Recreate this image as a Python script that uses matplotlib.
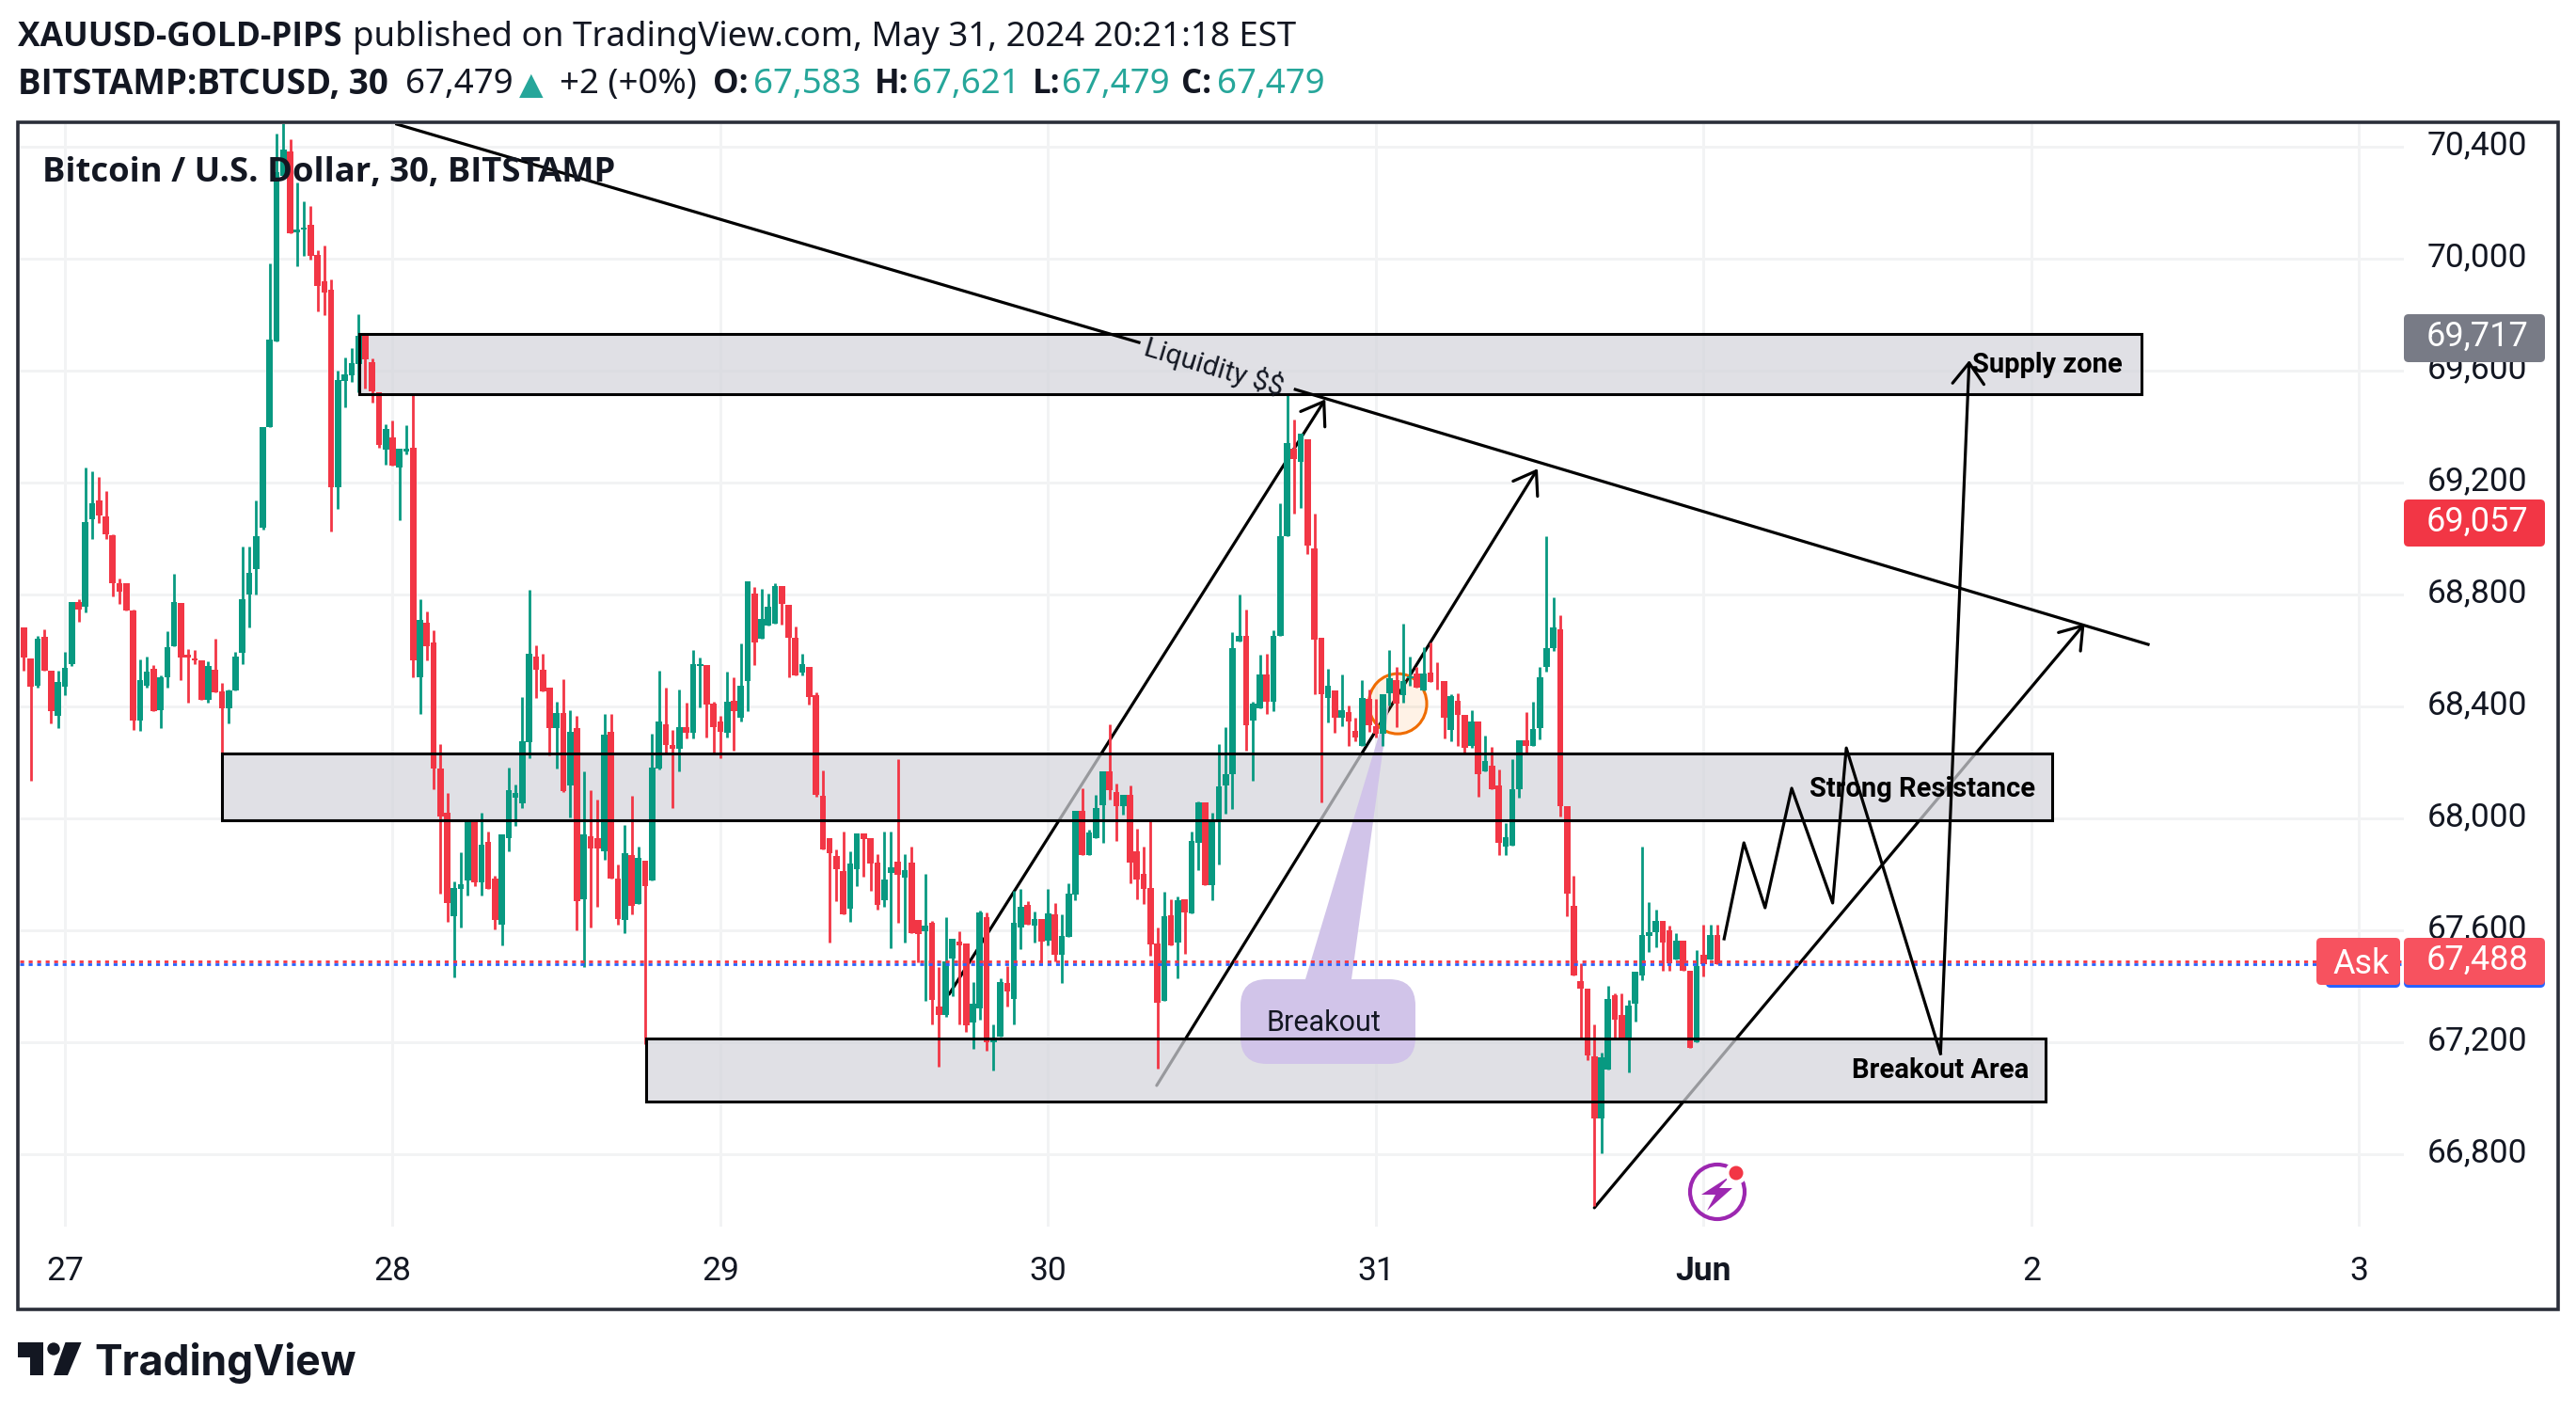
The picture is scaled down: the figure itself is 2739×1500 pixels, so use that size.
import numpy as np
import matplotlib
matplotlib.use("Agg")
import matplotlib.pyplot as plt
from matplotlib.patches import Rectangle, Ellipse, FancyBboxPatch, Polygon, Circle
from matplotlib.transforms import Affine2D, ScaledTranslation

# ===== data =====
opens = [68683,68572,68475,68649,68528,68368,68470,68553,68774,68755,
         69070,69135,69078,69011,68841,68841,68743,68351,68473,68535,
         68388,68503,68617,68770,68585,68572,68565,68425,68532,68454,
         68392,68458,68593,68800,68892,69039,69397,69703,70297,70382,
         70095,70103,70120,70013,69918,69891,69185,69564,69584,69625,
         69730,69630,69522,69319,69362,69255,69311,69325,68503,68700,
         68629,68179,68021,67652,67747,67780,67995,67773,67917,67786,
         67622,67931,68074,68055,68274,68579,68532,68468,68324,68377,
         68118,68323,67710,67937,67930,67882,68310,67785,67639,67870,
         67696,67850,67780,68178,68338,68262,68248,68325,68305,68546,
         68548,68410,68345,68307,68420,68360,68492,68803,68643,68690,
         68697,68832,68763,68646,68521,68540,68440,68080,67929,67866,
         67812,67679,67820,67946,67929,67841,67707,67806,67846,67787,
         67841,67636,67597,67627,67328,67298,67498,67561,67554,67272,
         67322,67647,67199,67219,67411,67355,67610,67690,67618,67640,
         67563,67658,67514,67578,67729,68026,67870,67929,68046,68168,
         68096,68043,68083,67882,67803,67751,67554,67347,67654,67558,
         67711,67660,67913,68056,67763,67992,68119,68159,68633,68651,
         68351,68395,68513,68418,68654,69009,69323,69275,69354,68966,
         68647,68431,68457,68359,68380,68314,68259,68426,68331,68302,
         68448,68496,68440,68500,68517,68458,68520,68506,68491,68316,
         68422,68371,68259,68345,68170,68187,68119,67899,67903,68105,
         68280,68259,68323,68542,68608,68676,68045,67688,67419,67393,
         67150,66928,67102,67368,67299,67217,67337,67440,67580,67594,
         67634,67599,67496,67565,67457,67200,67513,67496,67583]
closes = [68576,68472,68643,68529,68385,68488,68538,68774,68748,69059,
          69126,69084,69017,68841,68811,68743,68351,68494,68525,68385,
          68505,68612,68774,68576,68576,68564,68425,68545,68452,68392,
          68458,68579,68784,68878,69008,69397,69712,70308,70389,70092,
          70103,70112,70011,69904,69880,69185,69567,69586,69627,69724,
          69640,69526,69336,69392,69261,69320,69320,68566,68709,68616,
          68180,68007,67698,67752,67766,67987,67773,67907,67747,67636,
          67944,68102,68090,68275,68589,68533,68455,68324,68377,68099,
          68310,67706,67944,67892,67892,68300,67785,67642,67876,67689,
          67860,67760,68182,68346,68262,68248,68325,68307,68550,68553,
          68408,68325,68311,68418,68383,68473,68849,68630,68713,68756,
          68832,68766,68647,68512,68550,68435,68083,67889,67876,67820,
          67656,67840,67945,67926,67840,67691,67783,67827,67798,67817,
          67591,67587,67617,67352,67299,67490,67570,67547,67262,67337,
          67664,67202,67218,67416,67381,67627,67684,67620,67640,67561,
          67660,67514,67581,67731,68026,67870,67950,68036,68168,68101,
          68043,68083,67841,67783,67747,67551,67341,67650,67547,67707,
          67663,67919,68059,67763,67988,68115,68159,68609,68651,68334,
          68411,68513,68418,68654,69009,69342,69285,69374,68976,68640,
          68443,68474,68359,68388,68345,68289,68431,68333,68302,68445,
          68500,68410,68491,68508,68469,68517,68488,68503,68359,68436,
          68371,68251,68345,68157,68205,68105,67913,67934,68105,68280,
          68259,68320,68503,68608,68683,68045,67731,67440,67393,67153,
          66928,67145,67354,67282,67213,67333,67453,67582,67594,67634,
          67556,67484,67565,67457,67179,67474,67479,67582,67479]
highs = [68683,68572,68653,68676,68528,68528,68595,68774,68784,69253,
         69240,69219,69169,69015,68858,68841,68747,68569,68579,68548,
         68511,68669,68874,68770,68606,68602,68565,68562,68643,68485,
         68460,68595,68971,68971,69135,69397,69982,70446,70490,70426,
         70274,70204,70187,70030,70049,69925,69599,69647,69681,69802,
         69730,69644,69522,69409,69422,69320,69405,69513,68784,68740,
         68673,68266,68091,67776,67880,67987,67995,68021,67954,67796,
         67944,68182,68122,68434,68817,68619,68589,68468,68417,68498,
         68387,68367,68169,68102,68068,68374,68374,67836,67977,68081,
         67900,67850,68303,68527,68469,68315,68460,68414,68601,68574,
         68548,68418,68368,68525,68504,68624,68849,68827,68819,68803,
         68840,68832,68763,68687,68590,68540,68450,68172,67929,67890,
         67953,67882,67945,67946,67929,67872,67953,67953,68212,67872,
         67900,67636,67801,67635,67468,67647,67570,67598,67554,67415,
         67671,67664,67264,67428,67474,67740,67747,67703,67667,67640,
         67747,67698,67658,67767,68026,68109,67959,68083,68168,68335,
         68125,68083,68119,67963,67900,67995,67610,67737,67713,67720,
         67711,67953,68062,68056,68022,68265,68325,68667,68800,68746,
         68418,68584,68590,68674,69126,69520,69426,69374,69354,69088,
         68647,68534,68457,68513,68405,68359,68493,68462,68428,68445,
         68602,68542,68697,68577,68542,68611,68628,68560,68491,68443,
         68448,68371,68388,68345,68297,68256,68174,67982,68213,68280,
         68380,68417,68542,69009,68791,68728,68045,67796,67484,67393,
         67265,67165,67402,67376,67376,67350,67453,67899,67702,67676,
         67634,67616,67591,67565,67457,67530,67620,67620,67621]
lows = [68529,68135,68469,68529,68340,68324,68442,68546,68704,68738,
        68999,69057,68999,68795,68767,68743,68318,68314,68469,68385,
        68324,68469,68617,68495,68414,68550,68425,68414,68452,68227,
        68340,68458,68552,68683,68800,69033,69397,69703,70297,70092,
        69974,70011,69998,69813,69800,69027,69107,69470,69560,69524,
        69537,69487,69326,69265,69261,69067,69300,68505,68375,68566,
        68103,67730,67629,67434,67612,67726,67757,67726,67747,67605,
        67548,67884,67975,68039,68217,68431,68455,68227,68180,68096,
        68005,67599,67468,67612,67683,67854,67785,67619,67589,67656,
        67696,67194,67780,68176,68229,68039,68169,68287,68287,68398,
        68290,68237,68217,68290,68242,68345,68384,68548,68643,68690,
        68697,68694,68505,68512,68512,68408,68079,67889,67558,67703,
        67656,67632,67760,67792,67743,67674,67684,67538,67627,67558,
        67591,67485,67347,67264,67112,67292,67365,67264,67239,67178,
        67282,67169,67098,67219,67328,67264,67534,67620,67557,67485,
        67545,67490,67411,67578,67707,67870,67870,67929,67913,68066,
        67919,68015,67769,67713,67696,67508,67106,67347,67547,67428,
        67518,67660,67817,67763,67707,67837,68016,68035,68633,68244,
        68136,68395,68375,68382,68654,69009,69091,69108,68945,68445,
        68057,68342,68307,68331,68259,68277,68259,68311,68290,68259,
        68405,68325,68414,68474,68469,68458,68488,68462,68285,68277,
        68259,68229,68251,68079,68170,68105,67868,67868,67903,68074,
        68235,68259,68282,68525,68599,68006,67651,67440,67217,67136,
        66616,66804,67102,67217,67213,67093,67273,67423,67522,67539,
        67457,67457,67496,67457,67179,67200,67436,67496,67479]

price_ticks = [66800, 67200, 67600, 68000, 68400, 68800, 69200, 69600, 70000, 70400]
day_labels = ["27", "28", "29", "30", "31", "Jun", "2", "3"]

# zones: bar start, bar end, price low, price high
zone_supply = (43.1, 304.1, 69516, 69731)
zone_resist = (23.0, 291.0, 67995, 68232)
zone_breakout = (85.1, 290.1, 66987, 67215)

trend_a = [(48.6, 70481), (157.3, 69701)]
trend_b = [(180.2, 69533), (305.1, 68622)]
arrow_1 = [(129.5, 67372), (184.6, 69498)]
arrow_2 = [(159.9, 67046), (215.7, 69250)]
arrow_3 = [(224.0, 66609), (295.8, 68696)]
zigzag_x = [243.0, 245.9, 249.0, 252.9, 258.9, 260.9, 274.7]
zigzag_y = [67570, 67913, 67681, 68108, 67698, 68252, 67160]
zigzag_end = (278.9, 69637)

ask_price = 67488
bid_price = 67479

GREEN = "#089981"
RED = "#f23645"
TEXT = "#131722"
TEAL = "#26a69a"
W, H = 2739, 1500

plt.rcParams["font.family"] = ["Roboto", "DejaVu Sans"]

fig = plt.figure(figsize=(W / 100, H / 100), dpi=100)
px = Affine2D().scale(1, -1).translate(0, H)  # pixel coords, top-left origin

# plot area
left, right, top, bottom = 21, 2556, 132, 1304
ax = fig.add_axes([left / W, 1 - bottom / H, (right - left) / W, (bottom - top) / H])
ax.set_xlim(-6.61, 342.56)
ax.set_ylim(66541.6, 70481)
for s in ax.spines.values():
    s.set_visible(False)
ax.set_axisbelow(True)
ax.grid(color="#f2f3f4", lw=2.1)

ax.set_xticks(np.arange(len(day_labels)) * 48, day_labels)
ax.set_yticks(price_ticks, [f"{p:,}" for p in price_ticks])
ax.yaxis.tick_right()
ax.tick_params(length=0, labelsize=25.5, labelcolor=TEXT)
ax.tick_params(axis="x", pad=22)
ax.tick_params(axis="y", pad=17.5)
for lab in ax.get_yticklabels():
    lab.set_transform(lab.get_transform() + ScaledTranslation(0, 4.5 / 100, fig.dpi_scale_trans))
ax.get_xticklabels()[5].set_fontweight("bold")

# hand-drawn lines that sit under the zones
for a, b in (arrow_1, arrow_2, arrow_3):
    ax.annotate("", xy=b, xytext=a, zorder=1.5, annotation_clip=False,
                arrowprops=dict(arrowstyle="->,head_length=0.8,head_width=0.55", color="black",
                                lw=2.3, mutation_scale=20, shrinkA=0, shrinkB=0))

for z in (zone_supply, zone_resist, zone_breakout):
    ax.add_patch(Rectangle((z[0], z[2]), z[1] - z[0], z[3] - z[2], fc=(0.83, 0.835, 0.86, 0.72),
                           ec="none", zorder=2))

# breakout callout
ax.add_patch(Polygon([(1388, 1041), (1437, 1041), (1478, 742)], closed=True, transform=px,
                     fc="#d1c4e9", ec="none", zorder=2.2))
ax.add_patch(FancyBboxPatch((1319, 1041), 186, 90, boxstyle="round,pad=0,rounding_size=28",
                            transform=px, fc="#d1c4e9", ec="none", zorder=2.2))
ax.add_patch(Ellipse((195.2, 68410), 8.5, 215, fc=(1, 0.6, 0.2, 0.12), ec="#ef6c00", lw=2.2, zorder=2.3))

# candles
bar_x = np.arange(len(opens)) - 6
o, c, h, l = map(np.array, (opens, closes, highs, lows))
col = np.where(c >= o, GREEN, RED)
ax.vlines(bar_x, l, h, colors=col, lw=2.0, zorder=3)
ax.bar(bar_x, np.abs(c - o), bottom=np.minimum(o, c), width=0.92, color=col, lw=0, zorder=3)

for z in (zone_supply, zone_resist, zone_breakout):
    ax.add_patch(Rectangle((z[0], z[2]), z[1] - z[0], z[3] - z[2], fc="none", ec="black", lw=2.2, zorder=4))

# bid / ask lines
ax.axhline(ask_price, color=RED, lw=2.0, ls=(0, (1.5, 1.75)), zorder=3.5)
ax.axhline(bid_price, color="#2962ff", lw=2.0, ls=(0, (1.5, 1.75)), zorder=3.4)

# lines on top
for seg in (trend_a, trend_b):
    ax.plot(*zip(*seg), color="black", lw=2.3, zorder=5)
ax.plot(zigzag_x, zigzag_y, color="black", lw=2.3, zorder=5)
ax.annotate("", xy=zigzag_end, xytext=(zigzag_x[-1], zigzag_y[-1]), zorder=5,
            arrowprops=dict(arrowstyle="->,head_length=0.8,head_width=0.6", color="black",
                            lw=2.3, mutation_scale=20, shrinkA=0, shrinkB=0))

ax.text(168.3, 69614, "Liquidity $$", rotation=-16.6, rotation_mode="anchor", ha="center", va="center",
        fontsize=21.5, color=TEXT, zorder=6, parse_math=False)
ax.text(184.4, 67268, "Breakout", ha="center", va="center", fontsize=22, color=TEXT, zorder=6)
for x, y, s in ((290.3, 69620, "Supply zone"), (272.0, 68104, "Strong Resistance"), (274.7, 67099, "Breakout Area")):
    ax.text(x, y, s, ha="center", va="center", fontsize=21, fontweight="bold", color="black", zorder=6)

# frame
fig.add_artist(Rectangle((19, 130), 2701, 1262, transform=px, fc="none", ec="#2a2e39", lw=2.6, zorder=1))

# header
def head(x, y, s, color=TEXT, weight="normal", size=26.4, family="Noto Sans"):
    fig.text(x, y, s, transform=px, color=color, fontweight=weight, fontsize=size, family=family,
             ha="left", va="center", zorder=8)

head(19, 40, "XAUUSD-GOLD-PIPS", weight="bold", family="Open Sans", size=25.5)
head(375, 40, "published on TradingView.com, May 31, 2024 20:21:18 EST")
head(19, 90, "BITSTAMP:BTCUSD, 30", weight="bold", family="Open Sans", size=26.5)
head(431, 90, "67,479")
head(552, 90, "\u25b2", color=TEAL, size=24, family="DejaVu Sans")
head(595, 90, "+2 (+0%)")
head(758, 90, "O:", weight="bold", family="Open Sans", size=25)
head(801, 90, "67,583", color=TEAL)
head(930, 90, "H:", weight="bold", family="Open Sans", size=25)
head(970, 90, "67,621", color=TEAL)
head(1098, 90, "L:", weight="bold", family="Open Sans", size=25)
head(1129, 90, "67,479", color=TEAL)
head(1256, 90, "C:", weight="bold", family="Open Sans", size=25)
head(1294, 90, "67,479", color=TEAL)
head(45, 184, "Bitcoin / U.S. Dollar, 30, BITSTAMP", weight="bold", family="Open Sans", size=26.2)

# price badges
def badge(x0, x1, y0, y1, fc, zorder=6):
    fig.add_artist(FancyBboxPatch((x0, y0), x1 - x0, y1 - y0, boxstyle="round,pad=0,rounding_size=5",
                                  transform=px, fc=fc, ec="none", zorder=zorder))

def badge_text(x, y, s):
    fig.text(x, y, s, transform=px, color="white", fontsize=26, ha="center", va="center", zorder=8)

badge(2556, 2706, 334, 385, "#787b86")
badge_text(2634, 358, "69,717")
badge(2556, 2706, 531, 581, RED)
badge_text(2634, 555, "69,057")
badge(2473, 2552, 1003, 1050, "#2962ff", 5)
badge(2556, 2706, 1003, 1050, "#2962ff", 5)
badge(2463, 2552, 997, 1047, "#f7525f")
badge(2556, 2706, 997, 1047, "#f7525f")
badge_text(2511, 1025, "Ask")
badge_text(2634, 1021, "67,488")

# news icon
fig.add_artist(Circle((1826, 1267), 29, transform=px, fc="none", ec="#9c27b0", lw=3, zorder=6))
fig.add_artist(Circle((1846, 1247), 12, transform=px, fc="white", ec="none", zorder=6.1))
fig.add_artist(Circle((1846, 1247), 7.5, transform=px, fc=RED, ec="none", zorder=6.2))
fig.add_artist(Polygon([(1840, 1250), (1809, 1270), (1824, 1270), (1815, 1287),
                        (1842, 1263), (1828, 1263)], closed=True, transform=px, fc="#9c27b0", ec="none", zorder=6))

# TradingView logo
fig.add_artist(Polygon([(18.5, 1427), (45.6, 1427), (45.6, 1462), (32, 1462), (32, 1443), (18.5, 1443)],
                       closed=True, transform=px, fc=TEXT, ec="none"))
fig.add_artist(Polygon([(69.5, 1427), (86.6, 1427), (72, 1462), (57, 1462)], closed=True, transform=px, fc=TEXT, ec="none"))
fig.add_artist(Circle((57, 1434), 6.7, transform=px, fc=TEXT, ec="none"))
fig.text(100, 1462, "TradingView", transform=px, color=TEXT, fontsize=32, fontweight="bold", family="Inter",
         ha="left", va="baseline")

fig.savefig("out.png", dpi=100)
